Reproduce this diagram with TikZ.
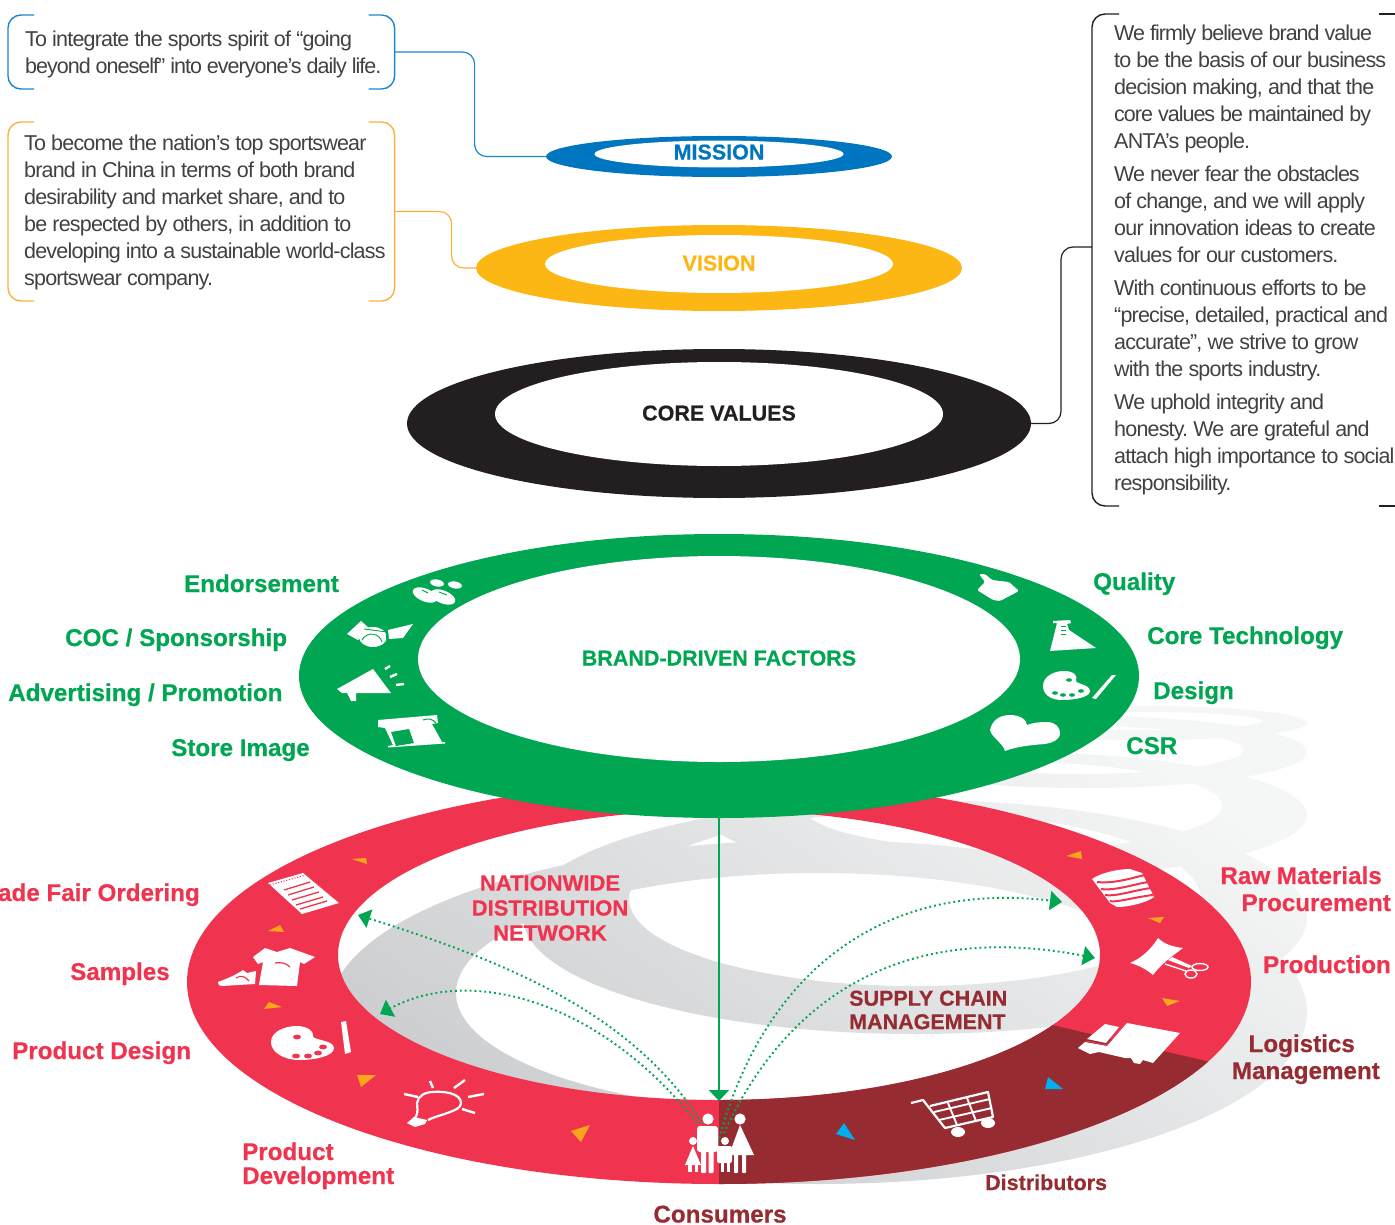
\documentclass[tikz,border=0pt]{standalone}
\usepackage{fontspec}
\usetikzlibrary{shapes.geometric,arrows.meta}
\setmainfont{Liberation Sans}[BoldFeatures={FakeBold=0.5}]
\newfontfamily\bodyfont[LetterSpace=-3.8]{Liberation Sans}
\newfontfamily\bodytight[LetterSpace=-4.6]{Liberation Sans}
\definecolor{cRed}{HTML}{F0344F}
\definecolor{cMaroon}{HTML}{962C32}
\definecolor{cGreen}{HTML}{00A651}
\definecolor{cBlue}{HTML}{0076C0}
\definecolor{cBlueL}{HTML}{1B87C9}
\definecolor{cOrange}{HTML}{FDB714}
\definecolor{cOrangeL}{HTML}{FBB040}
\definecolor{cBlack}{HTML}{231F20}
\definecolor{cBody}{HTML}{414042}
\definecolor{cTri}{HTML}{FAA61A}
\definecolor{cSky}{HTML}{00AEEF}
\definecolor{cShTop}{HTML}{F5F6F6}
\definecolor{cShBot}{HTML}{C6C7CA}
\tikzset{
  ring/.style={ellipse,inner sep=0pt,outer sep=0pt},
  lab/.style={font=\bfseries\fontsize{24.2}{28}\selectfont,inner sep=0pt,anchor=base west},
  labsm/.style={font=\bfseries\fontsize{21.5}{25}\selectfont,inner sep=0pt},
  inside/.style={font=\bfseries\fontsize{22}{25}\selectfont,inner sep=0pt,align=center},
  bodyt/.style={font=\bodyfont\fontsize{21.5}{27}\selectfont\frenchspacing,text=cBody,inner sep=0pt,align=left,anchor=north west},
  frame/.style={inner sep=0pt,outer sep=0pt,anchor=north west},
  brk/.style={line width=1.4pt,rounded corners=13pt},
  conn/.style={line width=1.2pt,rounded corners=12pt},
  dots/.style={cGreen,line width=1.9pt,dash pattern=on 1.9pt off 3pt,-{Triangle[length=12pt,width=19pt]}},
  tri/.style={fill=cTri},
  sky/.style={fill=cSky},
  icon/.style={fill=white},
  iline/.style={draw=white,line width=2.4pt},
}
\begin{document}
\begin{tikzpicture}[x=1pt,y=-1pt]
\useasboundingbox (0,0) rectangle (1395,1225);

% ---- shadows
\foreach \cx/\cy/\rx/\ry/\hx/\hy/\hrx/\hry in {
  1148/723/159/17/1144/721/118/9,
  1083/752/224/36/1078/750/165/24,
  1007/815/300/63/1012/806/210/44,
  915/917/392/117/915/899/286/87,
  818/1012/489/172/818/993/362/120}{
  \begin{scope}[even odd rule]
    \clip (\cx,\cy) ellipse [x radius=\rx pt,y radius=\ry pt]
          (\hx,\hy) ellipse [x radius=\hrx pt,y radius=\hry pt];
    \shade[top color=cShTop,bottom color=cShBot,shading angle=-35]
      (200,690) rectangle (1320,1225);
  \end{scope}
}

% ---- red ring
\path[fill=cRed,even odd rule] (719,982) ellipse [x radius=532pt,y radius=202pt]
                               (719,955) ellipse [x radius=381pt,y radius=145pt];
\begin{scope}
  \clip (719,947) -- (1300,1083) -- (1300,1250) -- (719,1250) -- cycle;
  \path[fill=cMaroon,even odd rule] (719,982) ellipse [x radius=532pt,y radius=202pt]
                                    (719,955) ellipse [x radius=381pt,y radius=145pt];
\end{scope}

% ---- small triangles
\fill[tri] (352,859) -- (366,858) -- (367,864) -- cycle;
\fill[tri] (268,931) -- (280,925) -- (284,932) -- cycle;
\fill[tri] (264,1009) -- (269,1002) -- (282,1007) -- cycle;
\fill[tri] (357,1075) -- (376,1075) -- (361,1087) -- cycle;
\fill[tri] (571,1131) -- (590,1125) -- (581,1142) -- cycle;
\fill[tri] (1066,856) -- (1081,851) -- (1082,859) -- cycle;
\fill[tri] (1148,918) -- (1164,917) -- (1160,923) -- cycle;
\fill[tri] (1162,998) -- (1180,1001) -- (1167,1006) -- cycle;
\fill[sky] (1045,1089) -- (1048,1077) -- (1063,1089) -- cycle;
\fill[sky] (836,1134) -- (844,1123) -- (855,1140) -- cycle;

% ---- red ring icons
% notepad
\fill[icon] (268,883) -- (303,873) -- (339,903) -- (302,914) -- cycle;
\draw[cRed,line width=1pt,dash pattern=on 1.2pt off 1.6pt] (270,885) -- (304,875.5);
\foreach \a/\b/\c/\d in {284/890/310/882, 288/895/314/887, 292/900/319/892, 296/905/323/897, 300/909/327/901}
  \draw[cRed,line width=1.3pt] (\a,\b) -- (\c,\d);
% shirt and shoe
\fill[icon] (253,957) -- (265,948) -- (277,952) -- (290,948) -- (315,957) -- (304,964) -- (300,962) -- (297,986) -- (259,985) -- (263,962) -- (258,964) -- cycle;
\draw[cRed,line width=1.2pt] (275,963) .. controls (281,962) and (286,963) .. (290,967);
\fill[icon] (218,982) .. controls (226,979) and (236,975) .. (243,970) -- (247,973) -- (256,971) -- (255,984) -- (222,986) .. controls (219,986) and (218,985) .. (218,982) -- cycle;
\draw[cRed,line width=1.1pt] (236,978) .. controls (241,975) and (245,976) .. (249,981);
% palette
\fill[icon] (271,1042) .. controls (271,1032) and (284,1026) .. (297,1026) .. controls (308,1026) and (314,1032) .. (313,1036) .. controls (312,1040) and (334,1040) .. (334,1048) .. controls (334,1056) and (315,1060) .. (300,1060) .. controls (283,1060) and (271,1052) .. (271,1042) -- cycle;
\foreach \a/\b in {297/1037,296/1056,308/1056,318/1053,323/1047}
  \fill[cRed] (\a,\b) ellipse [x radius=4pt,y radius=2.4pt];
\fill[icon] (341,1022) -- (346,1021) -- (351,1052) -- (345,1054) -- cycle;
% bulb
\draw[iline,line width=2.2pt] (415,1118) .. controls (419,1112) and (417,1108) .. (417,1103) .. controls (418,1096) and (425,1092) .. (433,1092) .. controls (443,1091) and (461,1093) .. (461,1103) .. controls (461,1108) and (455,1110) .. (450,1112) .. controls (443,1115) and (436,1116) .. (428,1120);
\fill[icon] (407,1123) -- (414,1117) -- (427,1120) -- (425,1124) -- (415,1127) -- cycle;
\foreach \a/\b/\c/\d in {430/1081/433/1088, 454/1088/465/1080, 468/1097/484/1094, 462/1109/475/1113, 404/1094/418/1097}
  \draw[iline] (\a,\b) -- (\c,\d);
% barrel
\fill[icon] (1092,879) .. controls (1100,873) and (1118,869) .. (1130,869) -- (1142,873) -- (1154,897) .. controls (1148,902) and (1130,907) .. (1117,907) -- (1110,903) -- cycle;
\foreach \a/\b/\c/\d in {1097/882/1145/875, 1101/889/1148/882, 1105/895/1151/888, 1110/901/1153/895}
  \draw[cRed,line width=2pt] (\a,\b) .. controls (1115,\b+2) and (1135,\d+2) .. (\c,\d);
% cloth and scissors
\fill[icon] (1130,963) .. controls (1142,958) and (1152,948) .. (1158,938) .. controls (1165,945) and (1175,947) .. (1183,948) .. controls (1172,956) and (1160,965) .. (1153,975) .. controls (1146,969) and (1138,965) .. (1130,963) -- cycle;
\fill[icon] (1168,960) -- (1172,957) -- (1192,966) -- (1189,968) -- cycle;
\draw[white,line width=1.4pt] (1165,964) -- (1186,971);
\draw[white,line width=1.4pt] (1200,967) ellipse [x radius=8pt,y radius=3.5pt];
\draw[white,line width=1.4pt] (1191,974) ellipse [x radius=6pt,y radius=4pt];
% truck
\fill[icon] (1127,1023) -- (1180,1033) -- (1153,1063) -- (1143,1060) -- (1140,1064) -- (1134,1063) -- (1131,1058) -- (1125,1058) -- (1099,1052) -- (1090,1054) -- (1078,1048) -- (1085,1042) -- (1107,1046) -- cycle;
\fill[icon] (1105,1024) -- (1119,1027) -- (1106,1043) -- (1087,1039) -- cycle;
\draw[cRed,line width=.9pt] (1121,1027) -- (1107,1045) -- (1086,1041);
% cart
\draw[iline,line width=2.2pt,line join=round] (911,1103) -- (923,1100) -- (945,1128) -- (993,1117) -- (988,1092) -- (930,1106);
\draw[white,line width=1.9pt] (934,1112) -- (990,1099) (939,1120) -- (992,1108);
\draw[white,line width=1.9pt] (948,1103) -- (957,1125) (967,1098) -- (976,1121);
\fill[icon] (958,1132) ellipse [x radius=7pt,y radius=5pt];
\fill[icon] (988,1123) ellipse [x radius=7pt,y radius=5pt];

% ---- green dotted arrows and the main arrow
\coordinate (s1) at (702,1123);
\coordinate (s2) at (697,1123);
\coordinate (s3) at (718,1143);
\coordinate (s4) at (724,1133);
\coordinate (e1) at (358,915);
\coordinate (e2) at (380,1014);
\coordinate (e3) at (1062,902);
\coordinate (e4) at (1095,958);
\draw[dots] (s1) .. controls (630,1010) and (500,960) .. (e1);
\draw[dots] (s2) .. controls (600,1000) and (470,965) .. (e2);
\draw[dots] (s3) .. controls (762,975) and (880,880) .. (e3);
\draw[dots] (s4) .. controls (785,1000) and (900,920) .. (e4);

% ---- family
\fill[icon] (708,1119) circle [radius=5.6pt];
\fill[icon,rounded corners=3pt] (697,1126) rectangle (718,1152);
\fill[icon,rounded corners=1pt] (701,1150) rectangle (706,1173);
\fill[icon,rounded corners=1pt] (708.5,1150) rectangle (713.5,1173);
\fill[icon] (693,1141) circle [radius=4pt];
\fill[icon] (693,1146) -- (685,1165) -- (701,1165) -- cycle;
\fill[icon] (688,1164) rectangle (691.5,1172);
\fill[icon] (694.5,1164) rectangle (698,1172);
\fill[icon] (725,1141) circle [radius=4pt];
\fill[icon,rounded corners=2pt] (717,1146) rectangle (732,1163);
\fill[icon] (720.5,1162) rectangle (724,1172);
\fill[icon] (726.5,1162) rectangle (730,1172);
\fill[icon] (740,1119) circle [radius=5.6pt];
\fill[icon] (740,1125) -- (729,1155) -- (754,1155) -- cycle;
\fill[icon,rounded corners=1pt] (734,1153) rectangle (738,1173);
\fill[icon,rounded corners=1pt] (742,1153) rectangle (746,1173);

% ---- green ring
\node[ring,fill=cGreen,minimum width=840pt,minimum height=284pt] (brand) at (719,676) {};
\node[ring,fill=white,minimum width=602pt,minimum height=206pt,font=\bfseries\fontsize{21.5}{25}\selectfont,text=cGreen] (brandin) at (719,659) {\raisebox{2pt}{BRAND-DRIVEN FACTORS}};
\coordinate (people) at (719,1101);
\draw[cGreen,line width=2pt,-{Triangle[length=11pt,width=20pt]}] (brand.south) -- (people);

% green ring icons
\fill[icon] (425,595) ellipse [x radius=13pt,y radius=6.5pt,rotate=-22];
\fill[icon] (443,597) ellipse [x radius=13pt,y radius=6.5pt,rotate=-22];
\fill[icon] (437,583) ellipse [x radius=7pt,y radius=3.5pt,rotate=-10];
\fill[icon] (455,585) ellipse [x radius=7pt,y radius=3.5pt,rotate=-10];
\draw[cGreen,line width=.9pt] (422,590) -- (428,593) (439,592) -- (447,595);
% handshake
\fill[icon] (347,634) -- (361,621) -- (370,629) -- (358,640) -- cycle;
\fill[icon] (388,630) -- (413,624) -- (403,638) -- (389,639) -- cycle;
\fill[icon] (373,637) ellipse [x radius=14pt,y radius=10pt];
\draw[cGreen,line width=.9pt] (364,629) -- (387,632) (362,640) .. controls (368,630) and (380,634) .. (382,642) (386,632) -- (387,641);
% megaphone
\fill[icon] (337,689) -- (373,669) -- (391,693) -- (356,693) -- (356,701) -- (351,701) -- (347,693) -- (342,693) -- cycle;
\draw[white,line width=2.4pt] (385,669) -- (390,666) (390,677) -- (397,674) (396,685) -- (404,684);
% store
\fill[icon] (378,720) -- (437,715) -- (438,723) -- (432,724) -- (442,742) -- (445,742) -- (445,743.5) -- (388,747.5) -- (388,746) -- (393,745) -- (385,728) -- (378,727) -- cycle;
\fill[cGreen] (391,732) -- (409,729) -- (414,743) -- (396,746) -- cycle;
\draw[cGreen,line width=1pt] (423,720) .. controls (428,718) and (433,719) .. (436,723);
% thumb
\fill[icon,rounded corners=1.5pt] (979,574) -- (985,574) -- (992,580) -- (1009,582) -- (1019,591) -- (1000,601) -- (993,600) -- (985,595) -- (977,590) -- (985,582) -- cycle;
% flask
\fill[icon] (1053,621) -- (1070,620) -- (1071,623) -- (1067,624) -- (1069,630) -- (1096,648) -- (1050,651) -- (1057,623) -- (1053,623) -- cycle;
\draw[cGreen,line width=.8pt] (1061,626) -- (1066,626) (1061,630) -- (1066,630) (1061,634) -- (1066,634);
% palette
\fill[icon] (1043,686) .. controls (1043,677) and (1053,671) .. (1064,671) .. controls (1074,671) and (1078,676) .. (1076,680) .. controls (1074,684) and (1090,684) .. (1090,691) .. controls (1090,698) and (1072,700) .. (1062,700) .. controls (1050,700) and (1043,694) .. (1043,686) -- cycle;
\foreach \a/\b in {1069/680,1055/693,1063/695,1072/695,1081/691}
  \fill[cGreen] (\a,\b) ellipse [x radius=3pt,y radius=1.8pt];
\fill[icon] (1092,698) -- (1112,675) -- (1116,675) -- (1096,699) -- cycle;
% heart
\fill[icon] (990,730) .. controls (992,720) and (1000,715) .. (1010,715) .. controls (1020,715) and (1027,720) .. (1027,725) .. controls (1035,722) and (1043,722) .. (1047,722) .. controls (1056,722) and (1060,728) .. (1060,733) .. controls (1060,740) and (1052,743) .. (1045,744) .. controls (1030,745) and (1015,747) .. (1005,751) .. controls (1003,743) and (992,738) .. (990,730) -- cycle;

% ---- upper rings
\node[ring,fill=cBlack,minimum width=624pt,minimum height=149pt] (core) at (719,423.5) {};
\node[ring,fill=white,minimum width=448pt,minimum height=104pt,labsm,inner sep=0pt,text=cBlack] (corein) at (719,414) {\raisebox{2pt}{CORE VALUES}};
\node[ring,fill=cOrange,minimum width=486pt,minimum height=86pt] (vision) at (719,268) {};
\node[ring,fill=white,minimum width=348pt,minimum height=58pt,labsm,inner sep=0pt,text=cOrange] (visionin) at (719,264) {\raisebox{2pt}{VISION}};
\node[ring,fill=cBlue,minimum width=346pt,minimum height=41pt] (mission) at (719,156.5) {};
\node[ring,fill=white,minimum width=249pt,minimum height=26pt,labsm,inner sep=0pt,text=cBlue] (missionin) at (719,154) {\raisebox{4pt}{MISSION}};

% ---- frames
\node[frame,minimum width=386.6pt,minimum height=74pt] (b1) at (8,15) {};
\node[frame,minimum width=386.6pt,minimum height=179pt] (b2) at (8,122) {};
\node[frame,minimum width=303pt,minimum height=492pt] (b3) at (1092,14) {};
\draw[brk,cBlueL] ([xshift=26pt]b1.north west) -- (b1.north west) -- (b1.south west) -- ([xshift=26pt]b1.south west);
\draw[brk,cBlueL] ([xshift=-26pt]b1.north east) -- (b1.north east) -- (b1.south east) -- ([xshift=-26pt]b1.south east);
\draw[brk,cOrangeL] ([xshift=26pt]b2.north west) -- (b2.north west) -- (b2.south west) -- ([xshift=26pt]b2.south west);
\draw[brk,cOrangeL] ([xshift=-26pt]b2.north east) -- (b2.north east) -- (b2.south east) -- ([xshift=-26pt]b2.south east);
\draw[brk,cBlack] ([xshift=27pt]b3.north west) -- (b3.north west) -- (b3.south west) -- ([xshift=27pt]b3.south west);
\draw[line width=1.4pt,cBlack] ([xshift=-16pt]b3.north east) -- (b3.north east);
\draw[line width=1.4pt,cBlack] ([xshift=-16pt]b3.south east) -- (b3.south east);
\draw[conn,cBlueL] (b1.east) -- ++(80,0) |- (mission.west);
\draw[conn,cOrangeL] (b2.east) -- ++(57,0) |- (vision.west);
\draw[conn,cBlack] (core.east) -- ++(30,0) |- ([yshift=13pt]b3.west);

% ---- body text
\node[bodyt] (t1) at (25,31) {To integrate the sports spirit of “going\\{\bodytight beyond oneself” into everyone’s daily life.}};
\node[bodyt] (t2) at (24,135) {To become the nation’s top sportswear\\brand in China in terms of both brand\\desirability and market share, and to\\be respected by others, in addition to\\developing into a sustainable world-class\\sportswear company.};
\node[bodyt] (t3) at (1114,25) {{\bodytight We firmly believe brand value}\\to be the basis of our business\\decision making, and that the\\{\bodytight core values be maintained by}\\ANTA’s people.\\[6pt]{\bodytight We never fear the obstacles}\\of change, and we will apply\\our innovation ideas to create\\values for our customers.\\[6pt]With continuous efforts to be\\“precise, detailed, practical and\\accurate”, we strive to grow\\with the sports industry.\\[6pt]We uphold integrity and\\honesty. We are grateful and\\attach high importance to social\\responsibility.};

% ---- green labels
\node[lab,text=cGreen,anchor=base east] (l1) at (339,592) {Endorsement};
\node[lab,text=cGreen] (l2) at (65,646) {COC / Sponsorship};
\node[lab,text=cGreen] (l3) at (8,701) {Advertising / Promotion};
\node[lab,text=cGreen] (l4) at (171,756) {Store Image};
\node[lab,text=cGreen] (l5) at (1093,590) {Quality};
\node[lab,text=cGreen] (l6) at (1147,644) {Core Technology};
\node[lab,text=cGreen] (l7) at (1153,699) {Design};
\node[lab,text=cGreen] (l8) at (1126,754) {CSR};

% ---- red labels
\node[lab,text=cRed,anchor=base east] (r1) at (200,901) {ade Fair Ordering};
\node[lab,text=cRed] (r2) at (70,980) {Samples};
\node[lab,text=cRed] (r3) at (12,1059) {Product Design};
\node[lab,text=cRed,anchor=base west] (r4) at (242,1160) {Product};
\node[lab,text=cRed,anchor=base west] (r5) at (242,1184) {Development};
\node[lab,text=cRed,anchor=base east] (r6) at (1382,884) {Raw Materials};
\node[lab,text=cRed,anchor=base east] (r7) at (1391,911) {Procurement};
\node[lab,text=cRed,anchor=base east] (r8) at (1391,973) {Production};
\node[lab,text=cMaroon,anchor=base east] (m1) at (1355,1052) {Logistics};
\node[lab,text=cMaroon,anchor=base east] (m2) at (1380,1079) {Management};
\node[labsm,text=cMaroon,anchor=base west] (m3) at (985,1190) {Distributors};
\node[lab,text=cMaroon,anchor=base] (m4) at (720,1222.5) {Consumers};

\node[inside,text=cRed] (nat) at (550,908) {NATIONWIDE\\DISTRIBUTION\\NETWORK};
\node[inside,text=cMaroon,anchor=west,align=left,font=\bfseries\fontsize{21.5}{23.5}\selectfont] (sup) at (849,1010) {SUPPLY CHAIN\\MANAGEMENT};
\end{tikzpicture}
\end{document}
